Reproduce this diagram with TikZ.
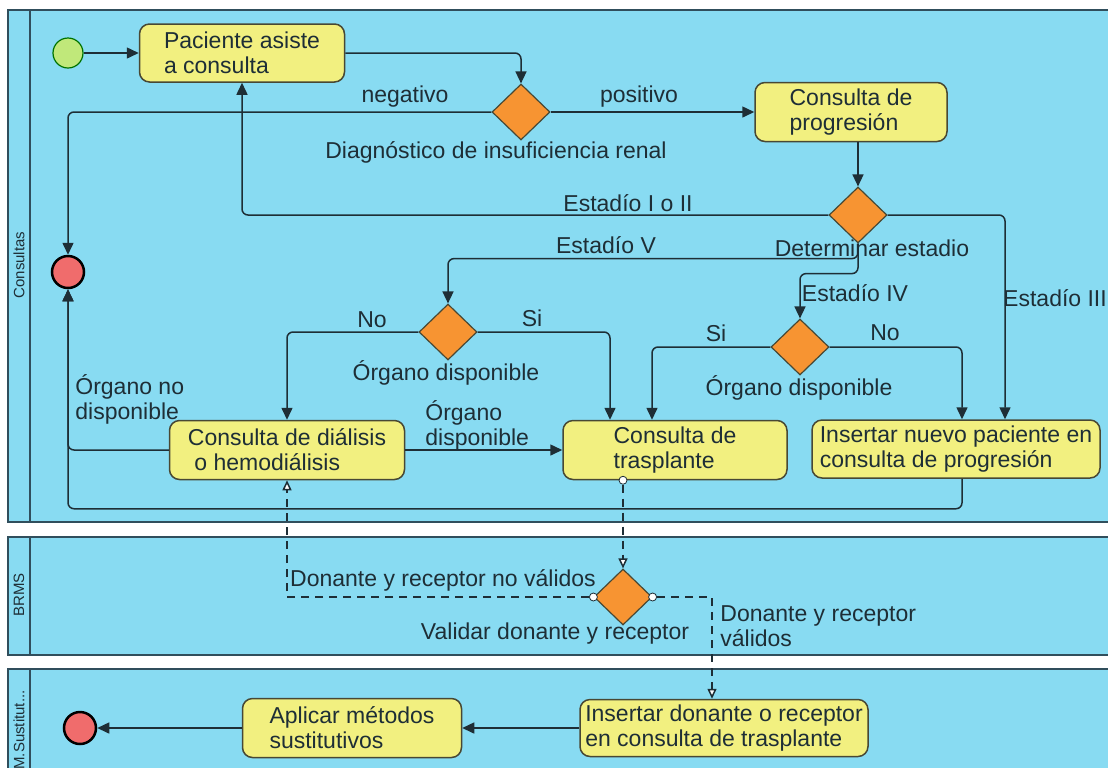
\documentclass[tikz,border=0pt]{standalone}
\usepackage{fontspec}
\setmainfont{Liberation Sans}
\usepackage{tikz}
\usetikzlibrary{arrows.meta,shapes.geometric,positioning}
\definecolor{lanefill}{RGB}{136,219,242}
\definecolor{laneedge}{RGB}{48,78,92}
\definecolor{taskfill}{RGB}{242,240,128}
\definecolor{taskedge}{RGB}{72,72,52}
\definecolor{gatefill}{RGB}{247,148,50}
\definecolor{stopfill}{RGB}{240,108,108}
\definecolor{startfill}{RGB}{192,232,122}
\definecolor{ink}{RGB}{30,46,54}

\begin{document}
\begin{tikzpicture}[x=0.5pt, y=-0.5pt,
  font=\fontsize{11.5pt}{12.5pt}\selectfont, text=ink,
  pool/.style={draw=laneedge, line width=1pt, fill=lanefill},
  poolname/.style={rotate=90, font=\fontsize{7.5pt}{8pt}\selectfont},
  act/.style={draw=taskedge, fill=taskfill, rounded corners=5pt, align=left,
              inner sep=0pt, line width=0.75pt},
  gw/.style={diamond, draw=taskedge, fill=gatefill, minimum width=29pt,
             minimum height=28pt, inner sep=0pt, line width=0.6pt},
  startev/.style={circle, draw=black!55!green, fill=startfill, minimum size=15pt,
                  inner sep=0pt, line width=0.6pt},
  stopev/.style={circle, draw=black, fill=stopfill, minimum size=15pt,
                 inner sep=0pt, line width=1.25pt},
  lbl/.style={align=left, inner sep=1pt},
  ar/.style={draw=ink, line width=0.75pt, rounded corners=3pt,
             -{Triangle[length=6pt, width=5.5pt]}},
  msg/.style={draw=ink, line width=0.75pt, dash pattern=on 4pt off 3pt,
              -{Triangle[open, length=5pt, width=4.5pt, fill=white]}},
  msgdot/.style={circle, draw=ink, fill=white, inner sep=0pt, minimum size=4pt}]

\useasboundingbox (0,0) rectangle (1108,767);
\clip (0,0) rectangle (1108,767);

% --- lanes
\draw[pool] (8,10) rectangle (1130,522);
\draw[pool] (8,537) rectangle (1130,655);
\draw[pool] (8,669) rectangle (1130,790);
\draw[laneedge, line width=1pt] (30,10) -- (30,522) (30,537) -- (30,655) (30,669) -- (30,790);
\node[poolname] (p-consultas) at (19,265) {Consultas};
\node[poolname] (p-brms) at (19,595) {BRMS};
\node[poolname] (p-metodos) at (19,730) {M.Sustitut...};

% --- Consultas
\node[startev] (inicio) at (68,53) {};
\node[act, minimum width=102.5pt, minimum height=29pt] (paciente) at (242,53) {Paciente asiste\\a consulta};
\node[gw] (diag) at (521,112) {};
\node[act, minimum width=96pt, minimum height=29.5pt] (progresion) at (851,112) {Consulta de\\progresión};
\node[gw] (estadio) at (858,215) {};
\node[stopev, minimum size=16pt] (fin1) at (68,272) {};
\node[gw] (organoV) at (448,332) {};
\node[gw] (organoIV) at (800,347) {};
\node[act, minimum width=117.5pt, minimum height=29.5pt] (dialisis) at (287,450) {Consulta de diálisis\\\hspace{0.28em}o hemodiálisis};
\node[act, minimum width=112pt, minimum height=29.5pt] (trasplante) at (675,450) {Consulta de\\trasplante};
\node[act, minimum width=144pt, minimum height=29pt] (insertarprog) at (956,449) {Insertar nuevo paciente en\\consulta de progresión};

\node[lbl] (l-neg) at (405,97) {negativo};
\node[lbl] (l-pos) at (639,97) {positivo};
\node[lbl] (l-diag) at (496,152) {Diagnóstico de insuficiencia renal};
\node[lbl] (l-I) at (628,203) {Estadío I o II};
\node[lbl] (l-V) at (606,245) {Estadío V};
\node[lbl] (l-est) at (872,248) {Determinar estadio};
\node[lbl] (l-IV) at (855,293) {Estadío IV};
\node[lbl] (l-III) at (1055,298) {Estadío III};
\node[lbl] (l-no1) at (372,320) {No};
\node[lbl] (l-si1) at (532,318) {Si};
\node[lbl] (l-org1) at (446,373) {Órgano disponible};
\node[lbl] (l-si2) at (716,333) {Si};
\node[lbl] (l-no2) at (885,333) {No};
\node[lbl] (l-org2) at (799,388) {Órgano disponible};
\node[lbl, anchor=west] (l-nodisp) at (73,399) {Órgano no\\disponible};
\node[lbl, anchor=west] (l-disp) at (423,425) {Órgano\\disponible};

% --- BRMS
\node[gw] (validar) at (623,597) {};
\node[lbl] (l-novalid) at (443,580) {Donante y receptor no válidos};
\node[lbl] (l-validar) at (555,634) {Validar donante y receptor};
\node[lbl, anchor=west] (l-valid) at (718,626) {Donante y receptor\\válidos};

% --- M. sustitutivos
\node[act, minimum width=144pt, minimum height=28.5pt] (insertardon) at (724,728) {Insertar donante o receptor\\en consulta de trasplante};
\node[act, minimum width=109.5pt, minimum height=29.5pt] (aplicar) at (352,728) {Aplicar métodos\\sustitutivos};
\node[stopev, minimum size=16pt] (fin2) at (80,728) {};

% --- sequence flows
\draw[ar] (inicio) -- (paciente);
\draw[ar] (paciente.east) -| (diag.north);
\draw[ar] (diag.west) -| (fin1.north);
\draw[ar] (diag.east) -- (progresion.west);
\draw[ar] (progresion.south -| estadio.north) -- (estadio.north);
\draw[ar] (estadio.west) -| (paciente.south);
\draw[ar] (estadio.east) -| ([xshift=24.5pt]insertarprog.north);
\draw[ar] (estadio.south) -- ++(0,15) -| (organoV.north);
\draw[ar] (estadio.south) -- ++(0,30) -| (organoIV.north);
\draw[ar] (organoV.west) -| (dialisis.north);
\draw[ar] (organoV.east) -| ([xshift=-32.5pt]trasplante.north);
\draw[ar] (organoIV.west) -| ([xshift=-11.5pt]trasplante.north);
\draw[ar] (organoIV.east) -| ([xshift=3pt]insertarprog.north);
\draw[ar] (dialisis) -- (trasplante);
\draw[ar] (dialisis.west) -| (fin1.south);
\draw[ar] ([xshift=3pt]insertarprog.south) -- ++(0,30) -| (fin1.south);
\draw[ar] (insertardon) -- (aplicar);
\draw[ar] (aplicar) -- (fin2);

% --- message flows
\node[msgdot] (m-tras) at (trasplante.south -| validar.north) {};
\node[msgdot] (m-no) at (validar.west) {};
\node[msgdot] (m-si) at (validar.east) {};
\draw[msg] (m-tras) -- (validar.north);
\draw[msg] (m-no) -| (dialisis.south);
\draw[msg] (m-si) -| ([xshift=-6pt]insertardon.north);
\end{tikzpicture}
\end{document}
